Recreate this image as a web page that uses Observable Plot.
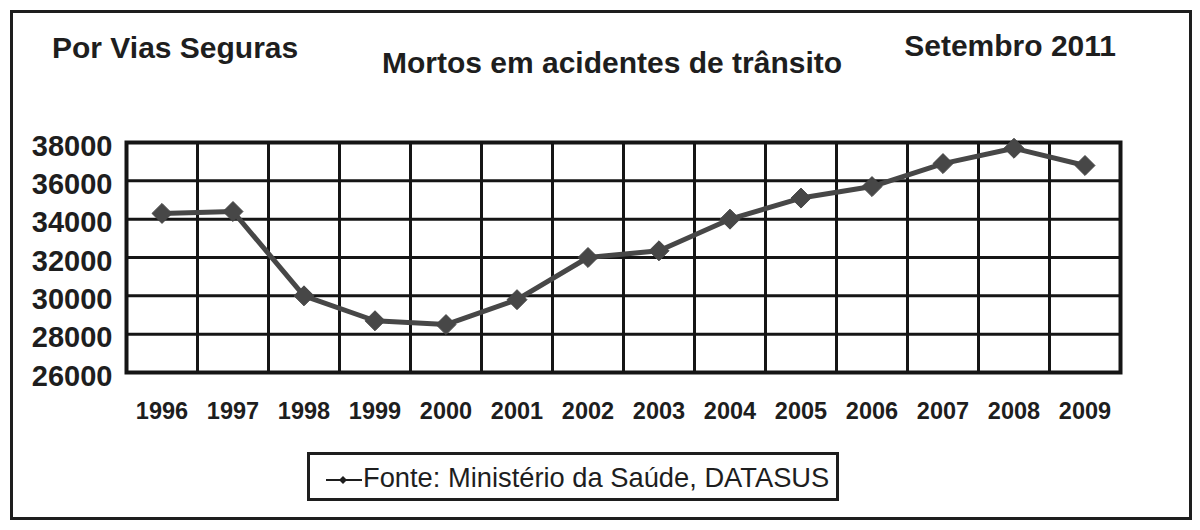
<!DOCTYPE html>
<html><head><meta charset="utf-8">
<script src="https://cdn.jsdelivr.net/npm/d3@7"></script>
<script src="https://cdn.jsdelivr.net/npm/@observablehq/plot@0.6"></script>
<style>
body{margin:0;background:#fff;font-family:"Liberation Sans",Arial,sans-serif;}
#wrap{position:relative;width:1200px;height:530px;overflow:hidden;background:#fff;}
.frame{position:absolute;left:10px;top:10px;width:1176px;height:504px;border:3px solid #1e1e1e;}
.t{position:absolute;line-height:1;font-weight:bold;color:#1e1e1e;white-space:nowrap;}
#chart{position:absolute;left:0;top:0;}
.legend{position:absolute;left:307px;top:452px;width:526px;height:43px;border:3px solid #1e1e1e;background:#fff;}
.legend svg{position:absolute;left:16px;top:20px;}
.legend span{position:absolute;left:53px;top:9px;font-size:27.3px;line-height:1;color:#1e1e1e;white-space:nowrap;}
</style></head>
<body>
<div id="wrap">
  <div class="frame"></div>
  <div id="chart"></div>
  <div class="t" style="left:52px;top:33px;font-size:30px;">Por Vias Seguras</div>
  <div class="t" style="left:612px;top:48px;font-size:30px;transform:translateX(-50%);">Mortos em acidentes de trânsito</div>
  <div class="t" style="right:84px;top:31px;font-size:30px;">Setembro 2011</div>
  <div class="legend">
    <svg width="36" height="10" viewBox="0 0 36 10"><line x1="0" y1="5" x2="36" y2="5" stroke="#1e1e1e" stroke-width="2"/><path d="M17 1 L21 5 L17 9 L13 5 Z" fill="#1e1e1e"/></svg>
    <span>Fonte: Ministério da Saúde, DATASUS</span>
  </div>
</div>
<script>
const years = [1996, 1997, 1998, 1999, 2000, 2001, 2002, 2003, 2004, 2005, 2006, 2007, 2008, 2009];
const deaths = [34300, 34400, 30000, 28700, 28500, 29800, 32000, 32350, 34000, 35100, 35700, 36900, 37700, 36800];
const yTicks = [26000, 28000, 30000, 32000, 34000, 36000, 38000];

const data = years.map((year, i) => ({year, deaths: deaths[i]}));
const bounds = years.map(y => y - 0.5).concat([years[years.length - 1] + 0.5]);
const ink = "#151515";
const series = "#474747";

const chart = Plot.plot({
  width: 1200,
  height: 440,
  marginLeft: 126,
  marginRight: 80,
  marginTop: 142,
  marginBottom: 68,
  style: {fontFamily: '"Liberation Sans", Arial, sans-serif', fontSize: "23px", fontWeight: "bold", color: "#1e1e1e", background: "transparent", overflow: "visible"},
  x: {domain: [bounds[0], bounds[bounds.length - 1]], label: null},
  y: {domain: [yTicks[0], yTicks[yTicks.length - 1]], label: null},
  marks: [
    Plot.gridY(yTicks, {stroke: ink, strokeOpacity: 1, strokeWidth: 3}),
    Plot.ruleX(bounds, {stroke: ink, strokeWidth: 3}),
    Plot.frame({stroke: ink, strokeWidth: 4}),
    Plot.axisX({ticks: years, tickFormat: "d", tickSize: 0, tickPadding: 30, fontSize: 23.5, fontWeight: "bold", label: null}),
    Plot.axisY({ticks: yTicks, tickFormat: "d", tickSize: 0, tickPadding: 14, fontSize: 29, fontWeight: "bold", dy: 4, label: null}),
    Plot.line(data, {x: "year", y: "deaths", stroke: series, strokeWidth: 5, strokeLinejoin: "round"}),
    Plot.dot(data, {x: "year", y: "deaths", symbol: "diamond2", r: 9, fill: series, stroke: series, strokeWidth: 1})
  ]
});
document.getElementById("chart").appendChild(chart);
</script>
</body></html>
